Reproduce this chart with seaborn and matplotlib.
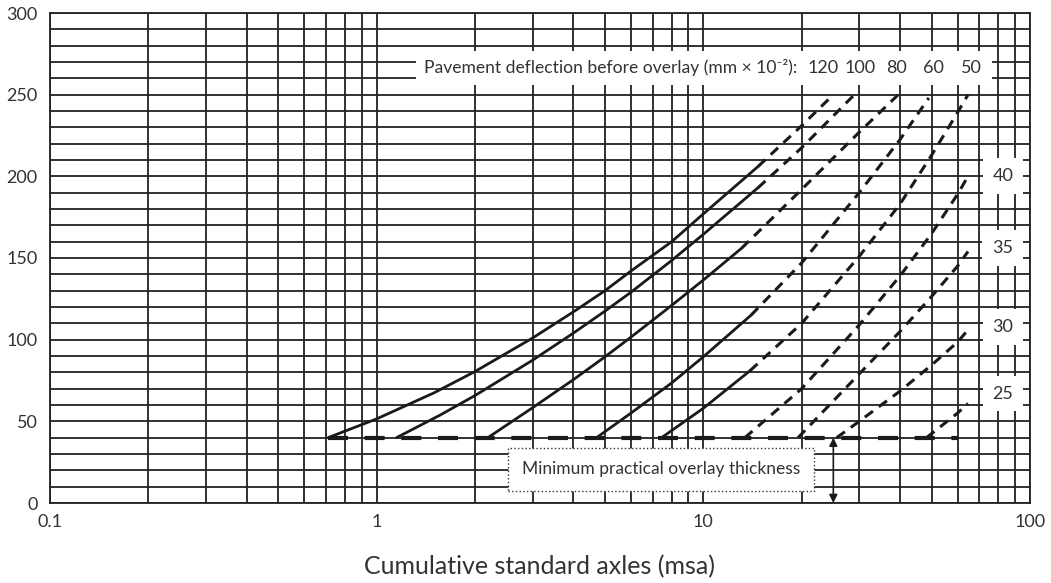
import matplotlib.pyplot as plt
import matplotlib.ticker as mticker
from matplotlib.patches import Rectangle
import seaborn as sns

sns.set_theme(style="white")
plt.rcParams['font.family'] = ['Lato', 'DejaVu Sans']

# deflection curves (mm x 10^-2): points
# solid part up to "solid_to", dashed (extrapolated) beyond it
x_120 = [0.71, 1.0, 1.5, 2, 3, 4, 5, 6, 8, 10, 14.7, 20, 25]
y_120 = [40, 51.5, 67.5, 80.5, 101, 117, 130, 142, 160, 177, 206, 231, 250]
x_100 = [1.15, 1.56, 2, 3, 4, 5, 6, 8, 10, 14.7, 20, 29]
y_100 = [40, 53.7, 65.8, 87.4, 104, 117.5, 129, 148.5, 164.5, 193, 217.5, 250]
x_80 = [2.19, 3, 4, 5, 6, 8, 10, 13.1, 20, 30, 39.5]
y_80 = [40, 58.3, 75.5, 89.5, 101.5, 121, 136.5, 156, 192, 227, 250]
x_60 = [4.71, 6, 8, 10, 14, 20, 30, 40, 49]
y_60 = [40, 55, 73.5, 89.5, 115, 147, 190, 222.5, 248]
x_50 = [7.45, 10, 13.9, 20, 30, 40, 50, 60, 64.6]
y_50 = [40, 58, 81, 110, 151, 183, 213, 239, 250]
x_40 = [13.4, 20, 30, 40, 50, 60, 64.6]
y_40 = [40, 70, 109, 139, 165, 189, 200]
x_35 = [19.5, 30, 40, 50, 60, 64.6]
y_35 = [40, 79, 105, 126.5, 145, 154]
x_30 = [25.6, 30, 40, 50, 60, 64.6]
y_30 = [40, 50, 68.5, 84.5, 98.5, 106]
x_25 = [48.2, 60, 64.6]
y_25 = [40, 55, 61]

solid_to = {"120": 14.7, "100": 14.7, "80": 13.1, "60": 14, "50": 13.9,
            "40": 0, "35": 0, "30": 0, "25": 0}

min_x = [0.71, 60]
min_thickness = 40

top_labels = ["120", "100", "80", "60", "50"]
side_labels = ["40", "35", "30", "25"]

curves = [("120", x_120, y_120), ("100", x_100, y_100), ("80", x_80, y_80),
          ("60", x_60, y_60), ("50", x_50, y_50), ("40", x_40, y_40),
          ("35", x_35, y_35), ("30", x_30, y_30), ("25", x_25, y_25)]

fig = plt.figure(figsize=(10.51, 5.83), dpi=100)
ax = fig.add_axes([50 / 1051, 80 / 583, 980 / 1051, 490 / 583])

ink = '#1a1a1a'
txt = '#333333'
for name, xs, ys in curves:
    cut = solid_to[name]
    sx = [x for x in xs if x <= cut]
    sy = [y for x, y in zip(xs, ys) if x <= cut]
    dx = [x for x in xs if x >= cut]
    dy = [y for x, y in zip(xs, ys) if x >= cut]
    if len(sx) > 1:
        sns.lineplot(x=sx, y=sy, ax=ax, color=ink, lw=2.0, sort=False,
                     estimator=None, legend=False, zorder=3)
    sns.lineplot(x=dx, y=dy, ax=ax, color=ink, lw=2.2, sort=False,
                 estimator=None, legend=False, zorder=3,
                 linestyle=(0, (3.3, 2.4)))

# minimum practical overlay thickness
sns.lineplot(x=min_x, y=[min_thickness] * 2, ax=ax, color=ink, lw=3.0,
             sort=False, estimator=None, legend=False, zorder=3,
             linestyle=(0, (4.8, 4.0)))

ax.set_xscale('log')
ax.set_xlim(0.1, 100)
ax.set_ylim(0, 300)
ax.xaxis.set_major_locator(mticker.FixedLocator([0.1, 1, 10, 100]))
ax.xaxis.set_minor_locator(mticker.LogLocator(subs=range(2, 10), numticks=20))
ax.xaxis.set_major_formatter(mticker.FuncFormatter(lambda v, _: f"{v:g}"))
ax.xaxis.set_minor_formatter(mticker.NullFormatter())
ax.yaxis.set_major_locator(mticker.MultipleLocator(50))
ax.yaxis.set_minor_locator(mticker.MultipleLocator(10))
ax.set_axisbelow(True)
ax.grid(which='both', color='#222222', lw=1.3)
ax.tick_params(which='both', length=0, labelsize=13, colors=txt)
ax.tick_params(axis='x', pad=8)
ax.tick_params(axis='y', pad=9)
for s in ax.spines.values():
    s.set_color('#222222')
    s.set_linewidth(1.3)

ax.set_xlabel("Cumulative standard axles (msa)", fontsize=18, color=txt,
              labelpad=18)
ax.set_ylabel("")

# header box with deflection labels
ax.add_patch(Rectangle((1.32, 256), 76.4 - 1.32, 21, facecolor='white',
                       edgecolor='none', zorder=4))
ax.text(1.40, 266.5, "Pavement deflection before overlay (mm \u00d7 10\u207b\u00b2):",
        fontsize=12.6, color=txt, ha='left', va='center', zorder=5)
for lab, xp in zip(top_labels, [23.2, 30.1, 39.1, 50.8, 66.4]):
    ax.text(xp, 266.5, lab, fontsize=13, color=txt, ha='center',
            va='center', zorder=5)

for lab, yp in zip(side_labels, [200, 156, 108, 67]):
    ax.text(82.6, yp, lab, fontsize=13, color=txt, ha='center',
            va='center', zorder=5,
            bbox=dict(boxstyle='square,pad=0.55', fc='white', ec='none'))

# note box and arrow
ax.add_patch(Rectangle((2.52, 7.5), 21.8 - 2.52, 26.4, facecolor='white',
                       edgecolor=txt, lw=1.0, linestyle=':', zorder=4))
ax.text(7.41, 20.8, "Minimum practical overlay thickness", fontsize=12.5,
        color=txt, ha='center', va='center', zorder=5)
ax.annotate('', xy=(25, 0), xytext=(25, min_thickness),
            arrowprops=dict(arrowstyle='<|-|>', color=ink, lw=1.2,
                            mutation_scale=12, shrinkA=0, shrinkB=0),
            zorder=5)

plt.savefig("out.png", dpi=100)
plt.close()
